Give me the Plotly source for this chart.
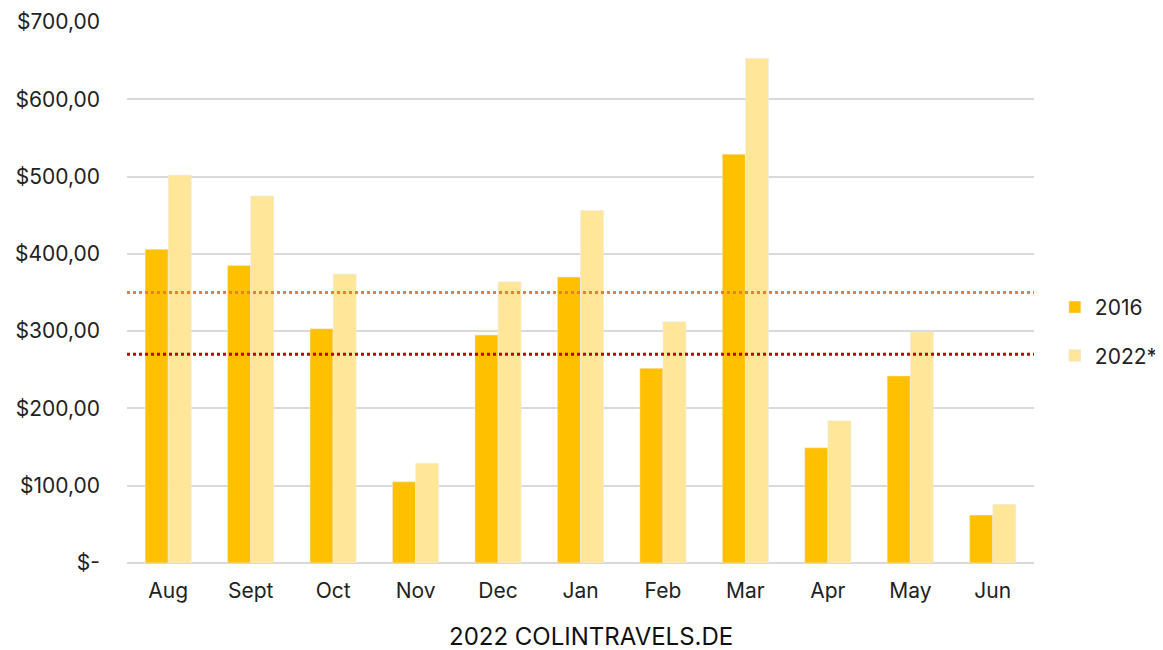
import plotly.graph_objects as go

months = ["Aug", "Sept", "Oct", "Nov", "Dec", "Jan", "Feb", "Mar", "Apr", "May", "Jun"]
vals_2016 = [406, 385, 303, 105, 295, 370, 252, 529, 149, 242, 62]
vals_2022 = [502, 475, 374, 129, 364, 456, 312, 653, 184, 299, 76]
ref_orange = 350
ref_red = 270
tick_vals = [0, 100, 200, 300, 400, 500, 600, 700]
tick_text = ["$-", "$100,00", "$200,00", "$300,00", "$400,00", "$500,00", "$600,00", "$700,00"]

FONT = "Inter, Roboto, sans-serif"

fig = go.Figure()
fig.add_trace(go.Bar(name="2016", x=months, y=vals_2016, marker_color="#FFC000", legendgroup="a"))
fig.add_trace(go.Bar(name="2022*", x=months, y=vals_2022, marker_color="#FFE699", legendgroup="b"))

fig.add_shape(type="line", xref="paper", x0=0, x1=1, yref="y", y0=ref_orange, y1=ref_orange,
              line=dict(color="#ED7D31", width=3, dash="dot"))
fig.add_shape(type="line", xref="paper", x0=0, x1=1, yref="y", y0=ref_red, y1=ref_red,
              line=dict(color="#C00000", width=3, dash="dot"))

fig.add_annotation(text="2022 COLINTRAVELS.DE", xref="paper", yref="paper", x=0.512, y=-0.135,
                   xanchor="center", yanchor="middle", showarrow=False,
                   font=dict(family=FONT, size=24, color="#111111"))

fig.update_layout(
    width=1155, height=642,
    margin=dict(l=119, r=129, t=14, b=87, autoexpand=False),
    paper_bgcolor="white", plot_bgcolor="white",
    barmode="group", bargap=0.44, bargroupgap=0,
    font=dict(family=FONT, size=21, color="#222222"),
    legend=dict(x=1.023, y=0.428, xanchor="left", yanchor="middle",
                font=dict(family=FONT, size=21, color="#222222"),
                traceorder="grouped", tracegroupgap=18),
    showlegend=True,
)
fig.update_xaxes(showgrid=False, showline=False, ticks="", tickfont=dict(size=21), ticklabelstandoff=13)
fig.update_yaxes(range=[0, 700], tickvals=tick_vals, ticktext=tick_text, showgrid=True,
                 gridcolor="#D9D9D9", gridwidth=1.5, zeroline=True, zerolinecolor="#D9D9D9",
                 zerolinewidth=1.5, ticks="", tickfont=dict(size=21), ticklabelstandoff=26)

fig.write_html("out.html")
